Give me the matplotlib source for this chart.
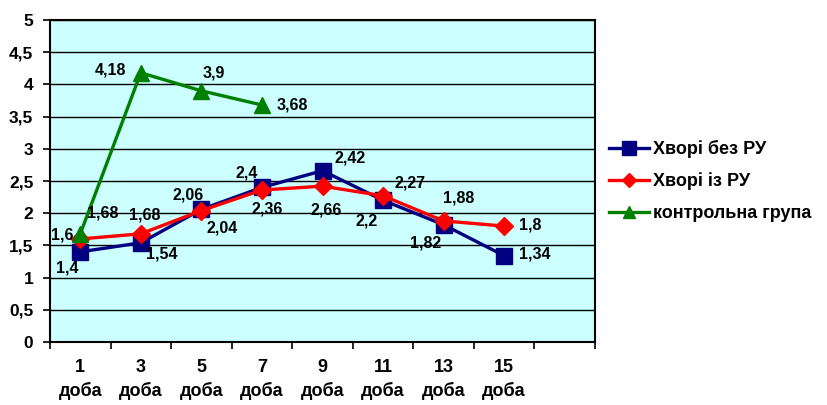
import numpy as np
import matplotlib.pyplot as plt
from matplotlib.ticker import FixedLocator, NullFormatter

plt.rcParams['font.family'] = ['Liberation Sans', 'DejaVu Sans']
plt.rcParams['font.weight'] = 'bold'

days = ['1', '3', '5', '7', '9', '11', '13', '15']
no_ru = [1.4, 1.54, 2.06, 2.4, 2.66, 2.2, 1.82, 1.34]
with_ru = [1.6, 1.68, 2.04, 2.36, 2.42, 2.27, 1.88, 1.8]
control = [1.68, 4.18, 3.9, 3.68]

# label offsets in pixels (dx, dy), y up
off_no_ru = [(-13, -16), (21, -11), (-13, 14), (-15, 14), (4, -39), (-16, -21), (-18, -18), (31, 2)]
off_with_ru = [(-18, 4), (4, 19), (21, -17), (5, -19), (28, 28), (27, 13), (15, 23), (26, 1)]
off_control = [(22, 21), (-30, 3), (12, 18), (30, 0)]

n_cat = len(days) + 1
x = np.arange(len(days)) + 0.5

fig = plt.figure(figsize=(8.27, 4.05), dpi=100)
ax = fig.add_axes([50 / 827, 63 / 405, 545 / 827, 322 / 405])
ax.set_facecolor('#CCFFFF')

l1, = ax.plot(x, no_ru, color='#000080', lw=2.4, marker='s', ms=12, label='Хворі без РУ')
l2, = ax.plot(x, with_ru, color='#FF0000', lw=2.4, marker='D', ms=9, label='Хворі із РУ')
l3, = ax.plot(x[:len(control)], control, color='#008000', lw=2.4, marker='^', ms=11,
              label='контрольна група')

def put_labels(xs, ys, offs):
    for xi, yi, (dx, dy) in zip(xs, ys, offs):
        ax.annotate(f'{yi:g}'.replace('.', ','), (xi, yi), xytext=(dx, dy),
                    textcoords='offset pixels', ha='center', va='center',
                    fontsize=11.5, fontweight='bold')

put_labels(x, no_ru, off_no_ru)
put_labels(x, with_ru, off_with_ru)
put_labels(x[:len(control)], control, off_control)

ax.set_xlim(0, n_cat)
ax.set_ylim(0, 5)
yt = np.arange(0, 5.01, 0.5)
ax.set_yticks(yt)
ax.set_yticklabels([f'{v:g}'.replace('.', ',') for v in yt], fontsize=12.5, fontweight='bold')
ax.yaxis.grid(True, color='black', lw=1)
ax.set_axisbelow(True)

ax.xaxis.set_major_locator(FixedLocator(np.arange(0, n_cat + 1)))
ax.xaxis.set_major_formatter(NullFormatter())
ax.xaxis.set_minor_locator(FixedLocator(x))
ax.set_xticklabels([f'{d}\nдоба' for d in days], minor=True, fontsize=13,
                   fontweight='bold', linespacing=1.45)
ax.tick_params(axis='x', which='major', length=5, width=1.2, direction='out')
ax.tick_params(axis='x', which='minor', length=0, pad=12)
ax.tick_params(axis='y', length=5, width=1.2, pad=7)

for s in ax.spines.values():
    s.set_color('black')
    s.set_linewidth(1.5)

fig.legend(handles=[l1, l2, l3], loc='center left', bbox_to_anchor=(593 / 827, 1 - 181 / 405),
           frameon=False, prop={'weight': 'bold', 'size': 13},
           handlelength=2.2, handletextpad=0.2, labelspacing=0.8, markerscale=0.8)

fig.savefig('out.png', dpi=100)
